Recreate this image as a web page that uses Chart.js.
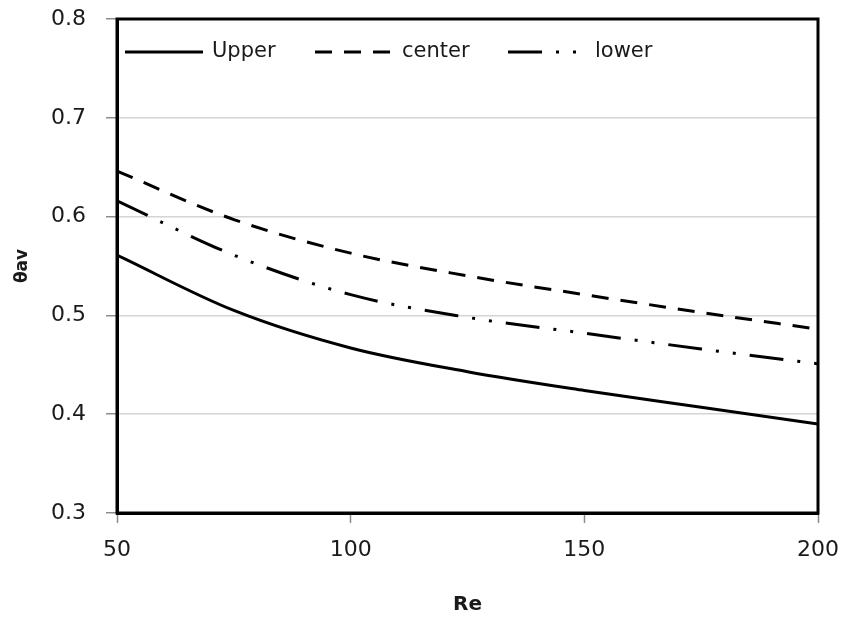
<!DOCTYPE html>
<html>
<head>
<meta charset="utf-8">
<script src="https://cdn.jsdelivr.net/npm/chart.js@4/dist/chart.umd.min.js"></script>
<style>
  html, body { margin: 0; padding: 0; background: #fff; }
  #wrap { width: 843px; height: 619px; position: relative; }
</style>
</head>
<body>
<div id="wrap"><canvas id="chart"></canvas></div>
<script>
// Re values along the x axis
var reValues = [50, 75, 100, 125, 150, 175, 200];

// theta_av per series
var upperValues  = [0.561, 0.505, 0.467, 0.443, 0.424, 0.407, 0.390];
var centerValues = [0.646, 0.597, 0.563, 0.540, 0.521, 0.503, 0.486];
var lowerValues  = [0.616, 0.561, 0.521, 0.498, 0.482, 0.466, 0.451];

var seriesNames = ['Upper', 'center', 'lower'];
var yTicks = [0.3, 0.4, 0.5, 0.6, 0.7, 0.8];
var xTicks = [50, 100, 150, 200];

var FONT = 'DejaVu Sans, Verdana, sans-serif';
var TEXT = '#1a1a1a';

function toPoints(values) {
    return reValues.map(function(re, i) { return { x: re, y: values[i] }; });
}

// draw the box around the plot area
var framePlugin = {
    id: 'frame',
    afterDatasetsDraw: function(chart) {
        var a = chart.chartArea, ctx = chart.ctx;
        ctx.save();
        ctx.strokeStyle = '#000';
        ctx.lineWidth = 3;
        ctx.strokeRect(a.left, a.top, a.right - a.left, a.bottom - a.top);
        ctx.restore();
    }
};

// legend sits inside the plot, along the top
var insideLegend = {
    id: 'insideLegend',
    afterDraw: function(chart) {
        var ctx = chart.ctx;
        var y = chart.chartArea.top + 33;
        var starts = [125, 315, 508];
        ctx.save();
        chart.data.datasets.forEach(function(ds, i) {
            var x0 = starts[i];
            ctx.beginPath();
            ctx.setLineDash(ds.borderDash || []);
            ctx.lineWidth = ds.borderWidth;
            ctx.strokeStyle = ds.borderColor;
            ctx.moveTo(x0, y);
            ctx.lineTo(x0 + 78, y);
            ctx.stroke();
            ctx.setLineDash([]);
            ctx.fillStyle = TEXT;
            ctx.font = '21px ' + FONT;
            ctx.textBaseline = 'middle';
            ctx.fillText(ds.label, x0 + 87, y);
        });
        ctx.restore();
    }
};

var ctx = document.getElementById('chart').getContext('2d');
new Chart(ctx, {
    type: 'line',
    data: {
        datasets: [
            {
                label: seriesNames[0],
                data: toPoints(upperValues),
                borderColor: '#000',
                borderWidth: 3,
                pointRadius: 0,
                cubicInterpolationMode: 'monotone'
            },
            {
                label: seriesNames[1],
                data: toPoints(centerValues),
                borderColor: '#000',
                borderWidth: 3,
                borderDash: [17, 12],
                pointRadius: 0,
                cubicInterpolationMode: 'monotone'
            },
            {
                label: seriesNames[2],
                data: toPoints(lowerValues),
                borderColor: '#000',
                borderWidth: 3,
                borderDash: [34, 14, 3, 14, 3, 14],
                pointRadius: 0,
                cubicInterpolationMode: 'monotone'
            }
        ]
    },
    options: {
        responsive: true,
        maintainAspectRatio: false,
        animation: false,
        layout: { padding: { top: 19, right: 25, left: 0, bottom: 0 } },
        plugins: {
            legend: { display: false },
            tooltip: { enabled: false }
        },
        scales: {
            x: {
                type: 'linear',
                min: xTicks[0],
                max: xTicks[xTicks.length - 1],
                afterBuildTicks: function(scale) {
                    scale.ticks = xTicks.map(function(v) { return { value: v }; });
                },
                afterFit: function(scale) {
                    scale.height = 106;
                    scale.paddingLeft = 0;
                    scale.paddingRight = 0;
                },
                grid: {
                    drawOnChartArea: false,
                    drawTicks: true,
                    tickLength: 10,
                    tickColor: '#8c8c8c',
                    tickWidth: 1.5
                },
                border: { color: '#000', width: 3 },
                ticks: {
                    padding: 14,
                    color: TEXT,
                    font: { family: FONT, size: 22 }
                },
                title: {
                    display: true,
                    text: 'Re',
                    color: TEXT,
                    padding: 2,
                    font: { family: FONT, size: 20, weight: 'bold' }
                }
            },
            y: {
                min: yTicks[0],
                max: yTicks[yTicks.length - 1],
                afterBuildTicks: function(scale) {
                    scale.ticks = yTicks.map(function(v) { return { value: v }; });
                },
                afterFit: function(scale) {
                    scale.width = 117;
                    scale.paddingTop = 0;
                    scale.paddingBottom = 0;
                },
                grid: {
                    color: '#d4d4d4',
                    lineWidth: 1.5,
                    tickLength: 11,
                    tickColor: '#8c8c8c',
                    tickWidth: 1.5
                },
                border: { color: '#000', width: 3 },
                ticks: {
                    padding: 20,
                    color: TEXT,
                    font: { family: FONT, size: 22 },
                    callback: function(v) { return Number(v).toFixed(1); }
                },
                title: {
                    display: true,
                    text: 'θav',
                    color: TEXT,
                    padding: 12,
                    font: { family: FONT, size: 17, weight: 'bold' }
                }
            }
        }
    },
    plugins: [framePlugin, insideLegend]
});
</script>
</body>
</html>
